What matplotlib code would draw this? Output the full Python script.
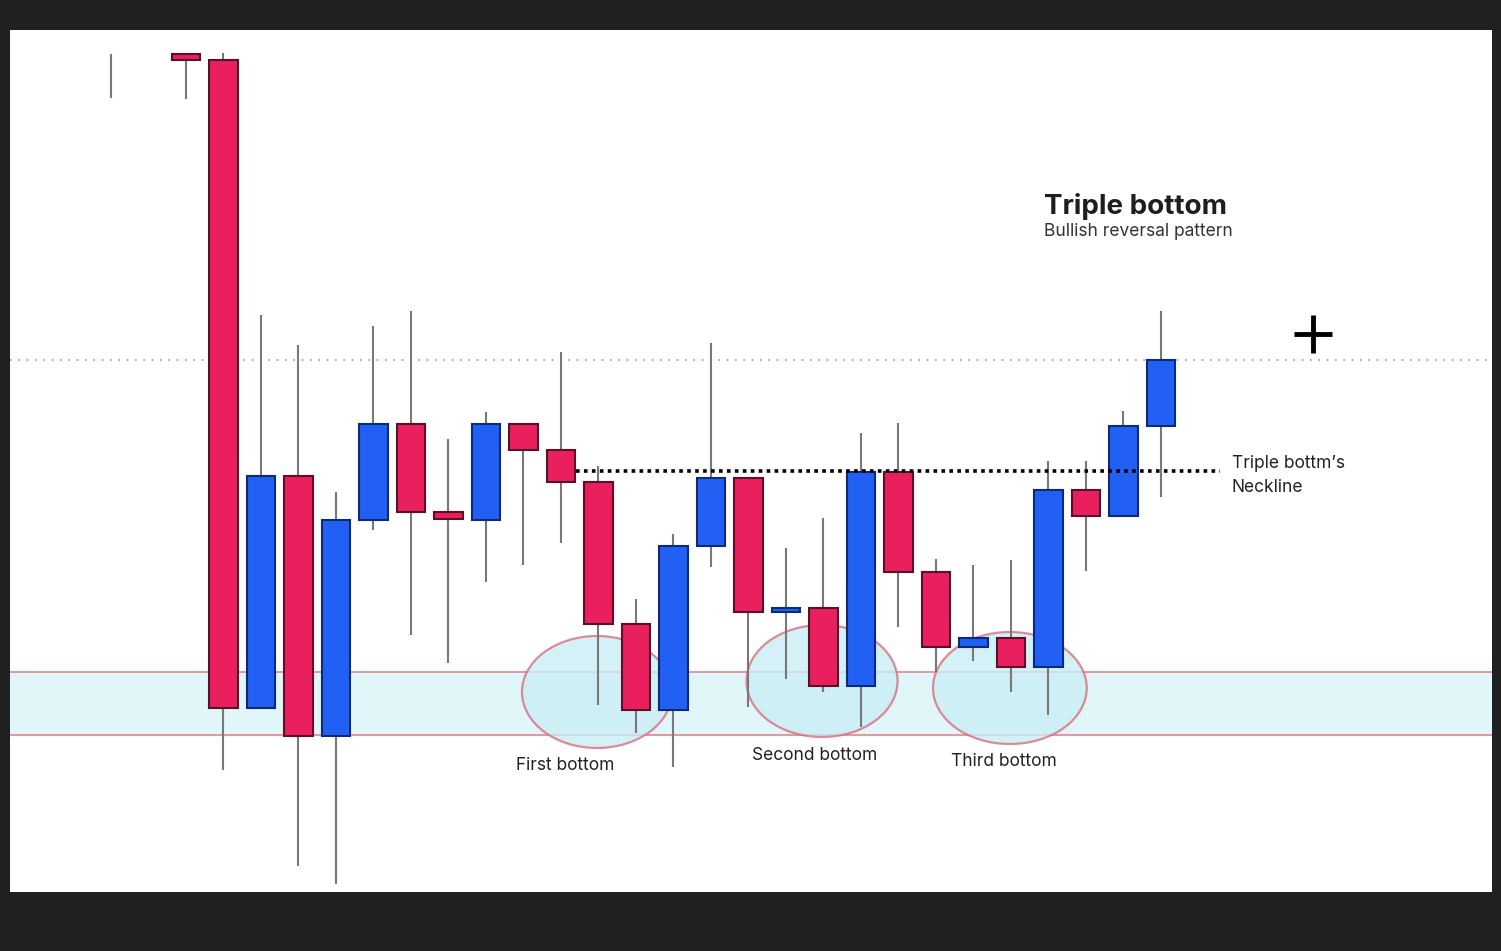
"""Triple bottom candlestick illustration."""

import numpy as np
import matplotlib
matplotlib.use("Agg")
import matplotlib.pyplot as plt
from matplotlib.patches import Ellipse, Rectangle

plt.rcParams["font.family"] = ["Inter", "DejaVu Sans"]

# candle slot index and OHLC prices (NaN body = wick only)
idx = [0, 2, 3, 4, 5, 6, 7, 8, 9, 10, 11, 12, 13, 14, 15,
       16, 17, 18, 19, 20, 21, 22, 23, 24, 25, 26, 27, 28]
opens = [np.nan, 846, 840, 192, 424, 164, 380, 476, 388, 380, 476, 450, 418, 276, 190,
         354, 422, 288, 292, 214, 428, 328, 253, 262, 233, 410, 384, 474]
closes = [np.nan, 840, 192, 424, 164, 380, 476, 388, 381, 476, 450, 418, 276, 190, 354,
          422, 288, 292, 214, 428, 328, 253, 262, 233, 410, 384, 474, 540]
highs = [846, 846, 847, 585, 555, 408, 574, 589, 461, 488, 476, 548, 434, 301, 366,
         557, 422, 352, 382, 467, 477, 341, 335, 340, 439, 439, 489, 589]
lows = [802, 801, 130, 192, 34, 16, 370, 265, 237, 318, 335, 357, 195, 167, 133,
        333, 193, 221, 208, 173, 273, 228, 239, 208, 185, 329, 384, 403]

support_zone = (165, 228)
neckline = 429
resistance = 540
bottoms = ["First bottom", "Second bottom", "Third bottom"]
bottom_x = [12.96, 18.96, 23.97]
bottom_y = [208, 219, 212]

BULL = "#2260f4"
BEAR = "#ea1f5e"

fig = plt.figure(figsize=(15.01, 9.51), dpi=100, facecolor="#202020")
ax = fig.add_axes([10 / 1501, 59 / 951, 1482 / 1501, 862 / 951])
ax.set_facecolor("white")
ax.set_xlim(-2.693, 36.827)
ax.set_ylim(8, 870)
ax.set_xticks([])
ax.set_yticks([])
for s in ax.spines.values():
    s.set_visible(False)

# support zone
ax.axhspan(*support_zone, color="#e1f6f9", zorder=0)
for lvl in support_zone:
    ax.axhline(lvl, color="#e8848f", lw=1.2, zorder=0.5)

# resistance dotted line
ax.axhline(resistance, color="#9a9a9a", lw=1.2, ls=(0, (1, 4)), zorder=0.5)

# ellipses around the bottoms
for bx, by, w in zip(bottom_x, bottom_y, [4.0, 4.03, 4.1]):
    ax.add_patch(Ellipse((bx, by), w, 112, facecolor="#c9eef4", alpha=0.8,
                         edgecolor="#d9707f", lw=1.6, zorder=1))

# candles
bw = 0.75
for x, o, c, h, l in zip(idx, opens, closes, highs, lows):
    ax.plot([x, x], [l, h], color="#787878", lw=1.5, zorder=2, solid_capstyle="butt")
    if np.isnan(o):
        continue
    up = c >= o
    face = BULL if up else BEAR
    edge = "#0c2a7a" if up else "#5a1028"
    ax.add_patch(Rectangle((x - bw / 2, min(o, c)), bw, max(abs(c - o), 4),
                           facecolor=face, edgecolor=edge, lw=1.5, zorder=3))

# neckline
ax.plot([12.4, 29.57], [neckline, neckline], color="black", lw=2.6,
        ls=(0, (1, 1.2)), zorder=4)

# labels
for name, tx, ty in zip(bottoms, [12.1, 18.77, 23.81], [134, 144, 139]):
    ax.text(tx, ty, name, ha="center", va="center", fontsize=12.5, color="#222222")

ax.text(24.88, 693, "Triple bottom", fontsize=20, fontweight="bold",
        color="#1e1e1e", va="center", ha="left")
ax.text(24.88, 668, "Bullish reversal pattern", fontsize=12.5,
        color="#333333", va="center", ha="left")
ax.text(29.89, 436, "Triple bottm’s", fontsize=12.5, color="#222222",
        va="center", ha="left")
ax.text(29.89, 413, "Neckline", fontsize=12.5, color="#222222",
        va="center", ha="left")

ax.plot([32.05], [566], marker="+", color="black", markersize=27, mew=3.5)

fig.savefig("out.png", dpi=100, facecolor=fig.get_facecolor())
